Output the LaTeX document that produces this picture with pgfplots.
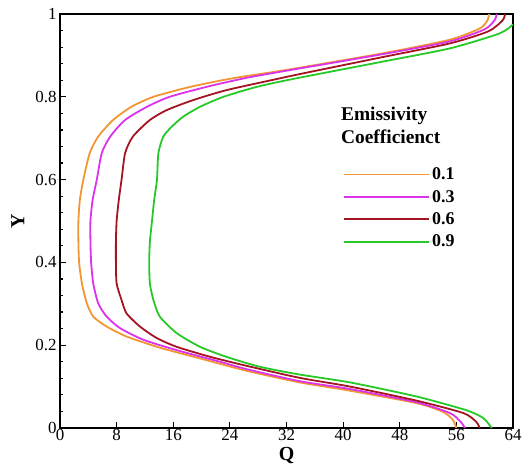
\documentclass[border=0pt]{standalone}
\usepackage{fontspec}
\setmainfont{Liberation Serif}
\usepackage{pgfplots}
\pgfplotsset{compat=1.18}

\definecolor{cOrange}{RGB}{240,150,50}
\definecolor{cMagenta}{RGB}{220,50,235}
\definecolor{cRed}{RGB}{165,20,35}
\definecolor{cGreen}{RGB}{40,200,40}

\begin{document}
\begin{tikzpicture}
\path[use as bounding box] (-60bp,-42bp) rectangle (462bp,428bp);
\begin{axis}[
  at={(0,0)}, anchor=south west,
  scale only axis, width=453bp, height=414bp,
  xmin=0, xmax=64, ymin=0, ymax=1,
  xtick={0,8,...,64},
  ytick={0,0.2,0.4,0.6,0.8,1},
  yticklabels={0,0.2,0.4,0.6,0.8,1},
  minor y tick num=4,
  tick align=inside,
  xtick pos=left, ytick pos=left,
  major tick length=6bp, minor tick length=3bp,
  axis line style={line width=1.6bp},
  every tick/.style={black, line width=1.2bp},
  /pgf/number format/assume math mode=true,
  tick label style={font=\fontsize{17}{17}\selectfont},
  xticklabel style={yshift=2bp},
  xlabel={\textbf{Q}}, ylabel={\textbf{Y}},
  label style={font=\fontsize{20}{20}\selectfont},
  xlabel style={yshift=0bp},
  ylabel style={yshift=4bp},
  legend style={at={(0.625,0.634)}, anchor=north west, draw=none, fill=none,
    font=\fontsize{18}{18}\selectfont\bfseries, row sep=5bp,
    inner sep=0pt},
  legend cell align=left,
  legend image code/.code={\draw[#1] (0bp,0bp) -- (85bp,0bp);},
  every axis plot/.append style={line width=1.8bp, smooth, tension=0.4},
]
\addplot[cOrange] coordinates {
(56,0)(55.5,0.02)(54.1,0.039)(50.4,0.060)(41,0.090)(33.9,0.110)(26.4,0.138)
(19.8,0.168)(14.1,0.194)(9.4,0.221)(6.6,0.245)(4.7,0.269)(3.8,0.301)(3.1,0.349)
(2.7,0.40)(2.6,0.45)(2.6,0.50)(2.8,0.55)(3.3,0.60)(4.2,0.664)(5.4,0.704)
(7.5,0.744)(10.1,0.776)(13.2,0.80)(18.4,0.824)(24.5,0.845)(32,0.865)
(45.6,0.905)(55.1,0.938)(59.3,0.965)(60.4,0.985)(60.6,1)};
\addlegendentry{0.1}
\addplot[cMagenta] coordinates {
(57.2,0)(56.6,0.015)(55.1,0.036)(50.4,0.062)(41,0.094)(33.9,0.113)(26.4,0.142)
(22.6,0.160)(16.5,0.188)(11.8,0.213)(8.5,0.241)(6.6,0.269)(5.4,0.301)(4.7,0.349)
(4.4,0.40)(4.3,0.45)(4.3,0.50)(4.6,0.55)(5.2,0.60)(5.9,0.664)(7.1,0.704)
(9.2,0.744)(12.3,0.776)(15.5,0.80)(20.7,0.824)(26.4,0.846)(33,0.866)
(45.6,0.903)(55.1,0.934)(60,0.963)(61.4,0.985)(61.7,1)};
\addlegendentry{0.3}
\addplot[cRed] coordinates {
(59.3,0)(58.8,0.015)(57,0.036)(50.4,0.066)(41,0.100)(33.9,0.121)(26.4,0.150)
(21.2,0.172)(16.5,0.196)(13.7,0.217)(11.3,0.245)(9.4,0.277)(8.7,0.309)(8.0,0.349)
(7.9,0.40)(7.9,0.45)(8.0,0.50)(8.3,0.55)(8.7,0.60)(9.2,0.664)(10.3,0.704)
(12.7,0.744)(15.1,0.768)(18.8,0.792)(23.5,0.816)(30.1,0.841)(33.9,0.855)
(45.6,0.896)(55.1,0.929)(60.5,0.958)(62.5,0.984)(62.9,1)};
\addlegendentry{0.6}
\addplot[cGreen] coordinates {
(61,0)(59.8,0.024)(57.4,0.043)(50.4,0.076)(41,0.110)(33.9,0.129)(28.2,0.148)
(23.5,0.172)(19.8,0.196)(16.5,0.229)(14.1,0.269)(13.2,0.309)(12.7,0.349)
(12.6,0.40)(12.7,0.45)(13.0,0.50)(13.3,0.55)(13.7,0.60)(13.9,0.664)(14.6,0.704)
(15.8,0.728)(17.4,0.752)(19.8,0.776)(23.1,0.80)(27.8,0.824)(32.9,0.843)
(45.6,0.885)(55.1,0.917)(62.1,0.953)(64,0.975)};
\addlegendentry{0.9}
\node[anchor=north west, align=left, font=\fontsize{19.5}{23}\selectfont\bfseries, inner sep=0pt]
  at (rel axis cs:0.620,0.775) {Emissivity\\Coefficienct};
\end{axis}
\end{tikzpicture}
\end{document}
